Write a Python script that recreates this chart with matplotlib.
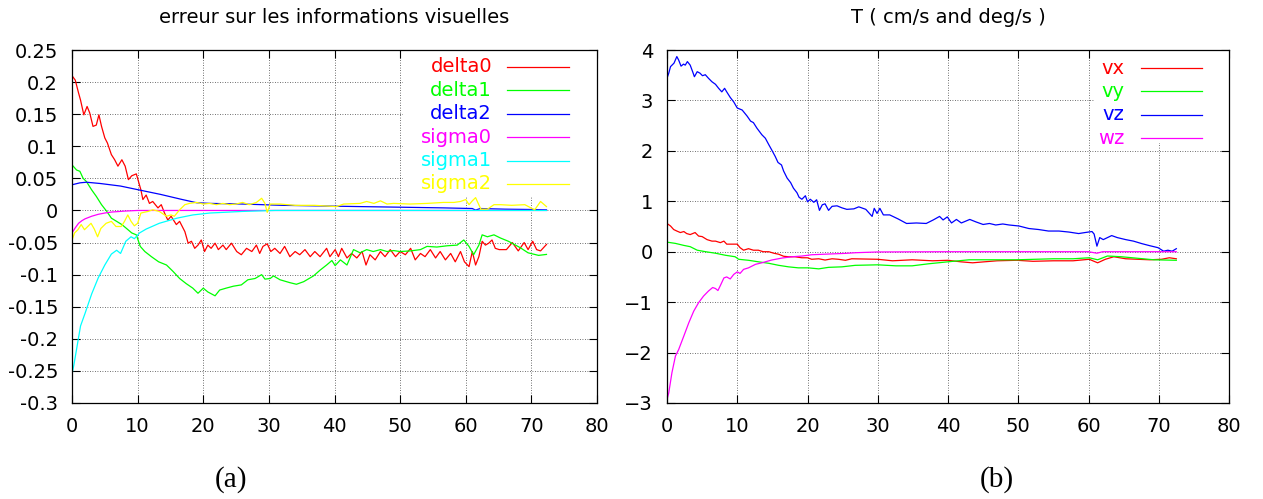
import matplotlib
matplotlib.use('Agg')
import matplotlib.pyplot as plt
from matplotlib.patches import Rectangle

plt.rcParams['font.family'] = ['DejaVu Sans']

# ---- panel (a): erreur sur les informations visuelles ----
t_delta0 = [0, 0.5, 1, 1.3, 1.8, 2.3, 2.7, 3.2, 3.7, 4.1, 4.5, 5, 5.4, 6, 6.5, 7, 7.6, 8.1, 8.6, 9.1,
            9.8, 10.5, 10.8, 11.3, 11.8, 12.3, 13.1, 13.6, 14.1, 14.6, 15.1, 15.9, 16.4, 17.2, 17.7,
            18.2, 18.7, 19.2, 19.7, 20.2, 20.7, 21.2, 21.8, 22.3, 23, 23.5, 24.3, 25.1, 25.8, 26.6,
            27.4, 28.1, 28.6, 29.1, 29.75, 30.3, 30.9, 31.7, 32.4, 33.2, 34, 34.7, 35.5, 36.3, 37,
            37.8, 38.8, 39.3, 40.1, 40.6, 41.1, 41.9, 42.6, 43.4, 44.2, 44.8, 45.4, 46.2, 47, 47.7,
            48.5, 49.3, 50, 50.8, 51.6, 52.3, 53.1, 53.8, 54.6, 55.4, 56.1, 56.9, 57.7, 58.4, 59.2,
            59.8, 60.5, 61, 61.5, 62, 62.5, 63, 63.5, 64, 64.5, 65.1, 66.2, 67.1, 68, 68.9, 69.5,
            70.2, 70.8, 71.4, 72.3]
delta0 = [0.21, 0.203, 0.183, 0.172, 0.149, 0.162, 0.152, 0.131, 0.133, 0.149, 0.131, 0.113, 0.105,
          0.087, 0.079, 0.069, 0.079, 0.069, 0.048, 0.054, 0.057, 0.032, 0.017, 0.024, 0.011, 0.014,
          0.004, 0.009, -0.004, -0.015, -0.009, -0.022, -0.017, -0.033, -0.051, -0.048, -0.059,
          -0.054, -0.046, -0.064, -0.054, -0.059, -0.051, -0.061, -0.054, -0.061, -0.051, -0.064,
          -0.069, -0.059, -0.064, -0.054, -0.067, -0.056, -0.052, -0.064, -0.059, -0.067, -0.056,
          -0.072, -0.064, -0.069, -0.061, -0.072, -0.064, -0.072, -0.059, -0.072, -0.061, -0.072,
          -0.059, -0.074, -0.067, -0.074, -0.064, -0.085, -0.069, -0.077, -0.064, -0.072, -0.061,
          -0.072, -0.064, -0.069, -0.059, -0.077, -0.067, -0.072, -0.061, -0.074, -0.064, -0.077,
          -0.067, -0.080, -0.064, -0.080, -0.0875, -0.064, -0.085, -0.072, -0.048, -0.054, -0.051,
          -0.046, -0.059, -0.061, -0.061, -0.050, -0.063, -0.050, -0.061, -0.048, -0.061, -0.063,
          -0.053]

t_delta1 = [0, 0.7, 1.2, 1.7, 2.2, 3, 3.7, 4.5, 5.3, 6, 6.8, 7.6, 8.3, 9.1, 9.8, 10.4, 11.1, 12.1,
            13.2, 14.4, 15.4, 16.4, 17.4, 18.4, 19.2, 20, 20.7, 21.8, 22.5, 23.5, 24.6, 25.8, 26.8,
            27.9, 28.9, 29.4, 30.2, 30.7, 31.7, 33.2, 34.2, 35.3, 36.8, 37.8, 38.8, 39.6, 40.1,
            40.9, 41.9, 42.9, 43.9, 44.9, 45.9, 47, 48, 49, 50, 51.6, 53.1, 54.1, 55.6, 57.2, 58.7,
            59.7, 60.5, 61.2, 62, 62.5, 63.3, 64.3, 65.3, 66.5, 68.3, 69.5, 71.1, 72.3]
delta1 = [0.071, 0.063, 0.061, 0.050, 0.045, 0.032, 0.022, 0.009, -0.0015, -0.012, -0.017, -0.022,
          -0.028, -0.035, -0.038, -0.056, -0.064, -0.072, -0.080, -0.085, -0.095, -0.106, -0.114,
          -0.121, -0.129, -0.121, -0.127, -0.133, -0.124, -0.121, -0.118, -0.116, -0.108, -0.106,
          -0.100, -0.107, -0.106, -0.102, -0.108, -0.1125, -0.115, -0.111, -0.102, -0.093, -0.085,
          -0.078, -0.086, -0.077, -0.085, -0.061, -0.066, -0.061, -0.064, -0.061, -0.064, -0.0625,
          -0.064, -0.063, -0.061, -0.056, -0.057, -0.055, -0.054, -0.046, -0.056, -0.069, -0.054,
          -0.038, -0.041, -0.038, -0.043, -0.048, -0.058, -0.066, -0.070, -0.0685]

t_delta2 = [0, 1.2, 2.2, 4.3, 7.4, 10.2, 13.5, 16.6, 19, 21, 26, 32, 38, 44, 50.5, 56.6, 61, 61.5,
            62.2, 66, 70, 72.3]
delta2 = [0.040, 0.043, 0.044, 0.042, 0.038, 0.032, 0.025, 0.0175, 0.012, 0.011, 0.010, 0.008,
          0.007, 0.006, 0.005, 0.004, 0.003, 0.0005, 0.003, 0.002, 0.0015, 0.001]

t_sigma0 = [0, 0.5, 1, 1.5, 2, 3, 4, 5, 6, 8, 10, 72.3]
sigma0 = [-0.035, -0.027, -0.02, -0.016, -0.013, -0.009, -0.006, -0.004, -0.0025, -0.001, 0, 0]

t_sigma1 = [0, 0.3, 0.8, 1.3, 2, 3, 4, 5, 6, 6.8, 7.4, 8.2, 9, 9.5, 10.3, 11.3, 13.3, 16, 18.4, 21,
            26, 31, 40, 50, 60, 72.3]
sigma1 = [-0.255, -0.24, -0.21, -0.18, -0.16, -0.13, -0.105, -0.085, -0.068, -0.062, -0.067,
          -0.048, -0.041, -0.044, -0.035, -0.029, -0.02, -0.012, -0.007, -0.004, -0.0015, 0,
          0, 0, 0, 0]

t_sigma2 = [0, 0.4, 0.9, 1.4, 1.9, 2.4, 2.9, 3.4, 3.9, 4.4, 5.2, 6, 6.7, 7.5, 8, 8.5, 9, 9.5, 10,
            10.5, 11.6, 12.3, 13.3, 14.4, 15.1, 15.6, 16.4, 17.2, 17.9, 19, 20, 21, 22, 23, 24, 25,
            26, 27, 28.1, 28.9, 29.4, 29.75, 30.2, 31.7, 34, 37, 40.3, 41.4, 43.9, 44.9, 46, 47, 48,
            49, 51.5, 54.1, 56.6, 58.2, 59.2, 60, 60.5, 61, 61.5, 62.3, 63.3, 64.3, 65.3, 67, 69,
            70.5, 71.4, 72.3]
sigma2 = [-0.046, -0.035, -0.030, -0.022, -0.030, -0.025, -0.020, -0.029, -0.041, -0.028, -0.020,
          -0.017, -0.025, -0.025, -0.017, -0.007, -0.017, -0.024, -0.020, -0.004, -0.0015, 0.001,
          -0.0015, -0.009, -0.007, -0.009, 0.001, 0.009, 0.011, 0.0125, 0.010, 0.011, 0.009,
          0.011, 0.009, 0.010, 0.0125, 0.009, 0.0125, 0.019, 0.011, -0.003, 0.010, 0.010, 0.008,
          0.008, 0.006, 0.010, 0.011, 0.014, 0.011, 0.015, 0.010, 0.011, 0.010, 0.011, 0.0125,
          0.0125, 0.014, 0.017, 0.009, 0.015, 0.020, 0.002, 0.002, 0.009, 0.009, 0.008, 0.009,
          0.001, 0.014, 0.006]

# ---- panel (b): T ( cm/s and deg/s ) ----
t_vx = [0, 0.5, 0.95, 1.4, 1.9, 2.4, 2.8, 3.3, 4, 4.5, 5, 5.7, 6.4, 6.9, 7.6, 8.1, 8.5, 9.2, 10,
        10.4, 10.9, 11.6, 12.3, 13, 13.7, 14.5, 15.2, 15.9, 16.6, 17.3, 18.2, 19.2, 20, 20.6, 21.6,
        22.5, 23.5, 24.4, 25.4, 26.3, 30, 32.1, 34.9, 37.8, 40, 41.8, 43.5, 45.2, 47, 49.8, 52.1,
        55, 57.8, 60.1, 61.3, 62.4, 63.6, 65.3, 67, 68.7, 70.4, 71.5, 72.5]
vx = [0.56, 0.51, 0.44, 0.41, 0.38, 0.40, 0.36, 0.34, 0.38, 0.31, 0.30, 0.24, 0.21, 0.21, 0.18,
      0.21, 0.15, 0.15, 0.15, 0.08, 0.03, 0.06, 0.03, 0.03, 0.0, 0.0, -0.03, -0.05, -0.09, -0.10,
      -0.10, -0.12, -0.12, -0.15, -0.14, -0.165, -0.14, -0.15, -0.17, -0.14, -0.15, -0.18, -0.16,
      -0.18, -0.17, -0.20, -0.22, -0.20, -0.18, -0.17, -0.19, -0.18, -0.18, -0.15, -0.22, -0.15,
      -0.10, -0.14, -0.15, -0.16, -0.15, -0.12, -0.14]

t_vy = [0, 1.2, 2.4, 3.3, 4.3, 5.5, 6.9, 8.3, 9.7, 10.2, 11.6, 13, 14.5, 15.9, 17.3, 18.7, 20.1,
        21.6, 23, 24.9, 26.8, 30, 32.6, 34.9, 37.2, 40, 43, 46.4, 49.8, 55, 57.8, 60.1, 61.3, 62.7,
        64.7, 67, 69.3, 72.5]
vy = [0.19, 0.165, 0.125, 0.10, 0.03, 0.0, -0.03, -0.07, -0.10, -0.15, -0.17, -0.20, -0.23, -0.27,
      -0.30, -0.32, -0.32, -0.34, -0.31, -0.30, -0.27, -0.26, -0.28, -0.28, -0.24, -0.20, -0.16,
      -0.16, -0.16, -0.14, -0.14, -0.12, -0.16, -0.085, -0.10, -0.13, -0.16, -0.17]

t_vz = [0, 0.25, 0.5, 1, 1.4, 1.66, 2, 2.35, 2.6, 2.9, 3.3, 3.65, 3.9, 4.3, 4.7, 5.05, 5.45, 5.9,
        6.4, 6.9, 7.35, 7.8, 8.2, 8.5, 9, 9.5, 10, 10.7, 11.4, 11.9, 12.3, 12.8, 13.5, 14, 14.5,
        14.9, 15.4, 15.8, 16.3, 16.6, 17.1, 17.6, 18, 18.5, 18.8, 19.2, 19.7, 20, 20.4, 20.9, 21.3,
        21.7, 22.1, 22.5, 23, 23.5, 24.2, 24.9, 25.6, 26.6, 27.3, 28.3, 29.2, 29.5, 29.9, 30.3,
        30.8, 31.7, 32.9, 34.1, 35.5, 36.9, 37.9, 38.8, 39.3, 39.9, 40.5, 41.2, 41.9, 43.1, 44, 45,
        45.9, 46.8, 47.8, 48.7, 50.1, 51.5, 52.9, 54.3, 55.8, 57.2, 58.6, 59.5, 60.5, 60.8, 61.2,
        61.6, 62.1, 63.3, 64.1, 65.3, 66.4, 67.6, 68.7, 69.9, 70.7, 71.3, 71.9, 72.5]
vz = [3.44, 3.54, 3.67, 3.74, 3.87, 3.80, 3.68, 3.72, 3.70, 3.77, 3.70, 3.57, 3.47, 3.57, 3.54,
      3.49, 3.51, 3.44, 3.37, 3.32, 3.24, 3.17, 3.24, 3.17, 3.06, 2.97, 2.85, 2.81, 2.69, 2.59,
      2.56, 2.45, 2.32, 2.25, 2.12, 2.02, 1.89, 1.77, 1.72, 1.60, 1.46, 1.37, 1.26, 1.17, 1.08,
      1.04, 1.11, 0.99, 1.04, 0.98, 1.03, 0.82, 0.93, 0.95, 0.82, 0.90, 0.91, 0.87, 0.84, 0.85,
      0.89, 0.84, 0.70, 0.86, 0.76, 0.86, 0.73, 0.73, 0.65, 0.56, 0.57, 0.56, 0.63, 0.70, 0.63,
      0.69, 0.57, 0.64, 0.57, 0.64, 0.59, 0.54, 0.56, 0.53, 0.55, 0.53, 0.51, 0.46, 0.44, 0.41,
      0.41, 0.39, 0.36, 0.38, 0.40, 0.35, 0.11, 0.28, 0.24, 0.32, 0.28, 0.24, 0.21, 0.16, 0.12,
      0.08, 0.01, 0.03, 0.01, 0.06]

t_wz = [0, 0.25, 0.7, 1.2, 1.66, 2.4, 3.1, 3.8, 4.5, 5.2, 5.9, 6.5, 6.9, 7.25, 7.6, 8.1, 8.5, 9,
        9.5, 10, 10.4, 10.9, 11.6, 12.6, 13.5, 14.9, 16.4, 17.8, 19.2, 20.6, 23, 25.4, 26.8, 30, 40,
        50, 60, 61.2, 62, 72.5]
wz = [-2.93, -2.80, -2.40, -2.07, -1.94, -1.67, -1.41, -1.18, -1.01, -0.88, -0.78, -0.71, -0.73,
      -0.77, -0.67, -0.52, -0.50, -0.54, -0.45, -0.40, -0.43, -0.35, -0.32, -0.25, -0.22, -0.165,
      -0.125, -0.10, -0.086, -0.06, -0.046, -0.033, -0.02, -0.005, 0.0, 0.0, 0.0, -0.03, 0.0, 0.0]

RED, GREEN, BLUE, MAGENTA, CYAN, YELLOW = '#ff0000', '#00ff00', '#0000ff', '#ff00ff', '#00ffff', '#ffff00'

W, H = 1263, 499
fig = plt.figure(figsize=(W / 100, H / 100), dpi=100)
ax1 = fig.add_axes([72 / W, (H - 403) / H, 525 / W, 353 / H])
ax2 = fig.add_axes([667 / W, (H - 403) / H, 562 / W, 353 / H])

series_a = [(t_delta0, delta0, RED, 'delta0'), (t_delta1, delta1, GREEN, 'delta1'),
            (t_delta2, delta2, BLUE, 'delta2'), (t_sigma0, sigma0, MAGENTA, 'sigma0'),
            (t_sigma1, sigma1, CYAN, 'sigma1'), (t_sigma2, sigma2, YELLOW, 'sigma2')]
series_b = [(t_vx, vx, RED, 'vx'), (t_vy, vy, GREEN, 'vy'),
            (t_vz, vz, BLUE, 'vz'), (t_wz, wz, MAGENTA, 'wz')]

for t, v, c, name in series_a:
    ax1.plot(t, v, color=c, lw=0.9, zorder=3)
ax1.set_xlim(0, 80)
ax1.set_ylim(-0.3, 0.25)
ax1.set_yticks([-0.3, -0.25, -0.2, -0.15, -0.1, -0.05, 0, 0.05, 0.1, 0.15, 0.2, 0.25])
ax1.set_yticklabels(['-0.3', '-0.25', '-0.2', '-0.15', '-0.1', '-0.05', '0', '0.05', '0.1',
                     '0.15', '0.2', '0.25'])

for t, v, c, name in series_b:
    ax2.plot(t, v, color=c, lw=0.9, zorder=3)
ax2.set_xlim(0, 80)
ax2.set_ylim(-3, 4)
ax2.set_yticks(range(-3, 5))


def gnuplot_key(ax, series, box_left, box_bottom, text_right, line_x0, line_x1, y_first, dy):
    # white key area hiding the grid, then right aligned labels with line samples
    ax.add_patch(Rectangle((box_left, box_bottom), 1 - box_left, 1 - box_bottom,
                           transform=ax.transAxes, facecolor='white', edgecolor='none',
                           zorder=1))
    for i, (_, _, c, name) in enumerate(series):
        y = y_first - i * dy
        ax.text(text_right, y, name, color=c, ha='right', va='center', fontsize=14,
                transform=ax.transAxes, zorder=4)
        ax.plot([line_x0, line_x1], [y, y], color=c, lw=0.9, transform=ax.transAxes,
                zorder=4)


gnuplot_key(ax1, series_a, 0.63, 0.584, 0.8, 0.829, 0.947, 0.952, 0.0663)
gnuplot_key(ax2, series_b, 0.76, 0.737, 0.814, 0.843, 0.952, 0.949, 0.0663)

for ax in (ax1, ax2):
    ax.set_xticks(range(0, 81, 10))
    ax.set_axisbelow(True)
    ax.grid(True, color='black', linestyle=(0, (1, 2)), lw=0.6, alpha=0.75)
    ax.tick_params(direction='in', length=6, width=0.8, top=True, right=True,
                   labelsize=14, pad=10)
    for s in ax.spines.values():
        s.set_linewidth(0.9)
        s.set_zorder(5)

fig.text((72 + 597) / 2 / W, 1 - 23 / H, 'erreur sur les informations visuelles',
         ha='center', va='baseline', fontsize=14)
fig.text((667 + 1229) / 2 / W, 1 - 23 / H, 'T ( cm/s and deg/s )',
         ha='center', va='baseline', fontsize=14)
fig.text(231 / W, 1 - 480 / H, '(a)', ha='center', va='center', fontsize=21,
         family='Liberation Serif')
fig.text(997 / W, 1 - 480 / H, '(b)', ha='center', va='center', fontsize=21,
         family='Liberation Serif')

fig.savefig('out.png', dpi=100)
